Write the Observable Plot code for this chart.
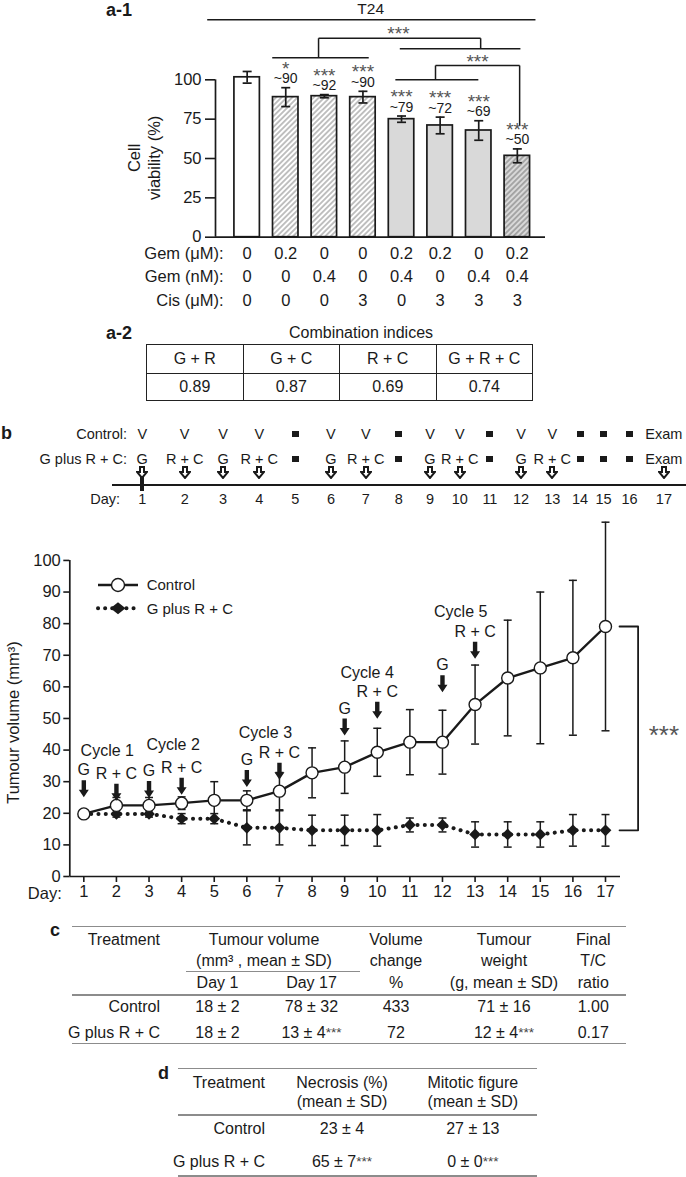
<!DOCTYPE html>
<html><head><meta charset="utf-8">
<script src="https://cdn.jsdelivr.net/npm/d3@7"></script>
<script src="https://cdn.jsdelivr.net/npm/@observablehq/plot@0.6"></script>
<style>
html,body{margin:0;padding:0;background:#fff;}
#root{position:relative;width:686px;height:1177px;overflow:hidden;background:#fff;font-family:"Liberation Sans",Arial,Helvetica,sans-serif;color:#1a1a1a;}
.t{position:absolute;white-space:nowrap;line-height:1.2;}
.row{position:absolute;display:grid;align-items:center;}
.cell{display:flex;justify-content:center;align-items:center;white-space:nowrap;height:100%;}
.cell.r{justify-content:flex-end;}
.rule{position:absolute;background:#8c8c8c;height:1.4px;}
.blk{position:absolute;background:#1a1a1a;}
sup{font-size:0.85em;line-height:0;vertical-align:0.45em;color:#444;}
.ci{position:absolute;left:146px;top:344px;width:387px;border-collapse:collapse;font-size:16px;}
.ci td{border:1.6px solid #222;text-align:center;padding:0;width:25%;}
</style></head><body><div id="root"></div>
<script>
// ================= DATA =================
// a-1 : cell viability (%) of T24 cells
const barIds = [1, 2, 3, 4, 5, 6, 7, 8];
const viabilityMean = [101.6, 89.0, 89.6, 89.0, 75.0, 71.0, 67.8, 51.7];
const viabilitySD = [3.7, 6.0, 1.0, 3.7, 2.0, 5.3, 6.2, 4.4];
const barGroup = ["control", "single", "single", "single", "pair", "pair", "pair", "triple"];
const starText = ["", "*", "***", "***", "***", "***", "***", "***"];
const approxText = ["", "~90", "~92", "~90", "~79", "~72", "~69", "~50"];
const gemUM = ["0", "0.2", "0", "0", "0.2", "0.2", "0", "0.2"];
const gemNM = ["0", "0", "0.4", "0", "0.4", "0", "0.4", "0.4"];
const cisUM = ["0", "0", "0", "3", "0", "3", "3", "3"];
const doseRowLabels = ["Gem (μM):", "Gem (nM):", "Cis (μM):"];
const viabilityTicks = [0, 25, 50, 75, 100];
const cellLine = "T24";
// comparison brackets (bar index units, viability % units)
const bracketX1 = [-0.035, 1.65, 2.85, 2.85, 7.05, 4.955, 4.84, 5.88, 5.88, 8.06];
const bracketY1 = [138.1, 114.0, 114.0, 126.4, 126.4, 119.7, 100.0, 100.0, 109.1, 109.1];
const bracketX2 = [8.47, 4.15, 2.85, 7.05, 7.05, 8.08, 6.99, 5.88, 8.06, 8.06];
const bracketY2 = [138.1, 114.0, 126.4, 126.4, 119.7, 119.7, 100.0, 109.1, 109.1, 71.0];
const bracketStarX = [4.92, 6.97];
const bracketStarY = [132.6, 114.3];

// a-2 : combination indices
const ciLabels = ["G + R", "G + C", "R + C", "G + R + C"];
const ciValues = ["0.89", "0.87", "0.69", "0.74"];

// b : schedule
const controlSchedule = ["V","V","V","V","■","V","V","■","V","V","■","V","V","■","■","■","Exam"];
const treatSchedule = ["G","R + C","G","R + C","■","G","R + C","■","G","R + C","■","G","R + C","■","■","■","Exam"];
const arrowDays = [1, 2, 3, 4, 6, 7, 9, 10, 12, 13, 17];
const scheduleLabels = ["Control:", "G plus R + C:", "Day:"];

// b : tumour volume (mm3)
const days = [1,2,3,4,5,6,7,8,9,10,11,12,13,14,15,16,17];
const controlMean = [19.8, 22.5, 22.5, 23.2, 24.1, 24.1, 27.0, 32.8, 34.6, 39.3, 42.5, 42.5, 54.4, 62.8, 66.0, 69.2, 79.1];
const controlSD = [0.8, 2.5, 2.5, 2.0, 5.9, 3.0, 5.9, 7.9, 8.3, 7.6, 10.3, 10.1, 12.5, 18.3, 24.0, 24.5, 33.0];
const treatMean = [19.8, 19.8, 19.8, 18.3, 18.3, 15.4, 15.4, 14.6, 14.6, 14.6, 16.3, 16.3, 13.3, 13.3, 13.3, 14.6, 14.6];
const treatSD = [0.8, 1.0, 1.0, 1.6, 1.6, 5.4, 5.4, 4.8, 4.8, 5.0, 2.2, 2.2, 4.0, 4.0, 4.0, 5.0, 5.0];
const volumeTicks = [0, 10, 20, 30, 40, 50, 60, 70, 80, 90, 100];
const seriesNames = ["Control", "G plus R + C"];
const doseDays = [1, 2, 3, 4, 6, 7, 9, 10, 12, 13];
const doseDrug = ["G", "R + C", "G", "R + C", "G", "R + C", "G", "R + C", "G", "R + C"];
const doseArrowTip = [25.1, 24.0, 24.8, 25.9, 28.3, 30.6, 44.6, 49.9, 58.3, 68.9];
const cycleNames = ["Cycle 1", "Cycle 2", "Cycle 3", "Cycle 4", "Cycle 5"];
const cycleX = [1.72, 3.74, 6.57, 9.69, 12.56];
const cycleY = [39.6, 41.7, 45.3, 64.5, 83.6];
const finalSig = "***";

// c : tumour table
const tcHead1 = ["Treatment", "Tumour volume", "Volume", "Tumour", "Final"];
const tcHead2 = ["", "(mm³ , mean ± SD)", "change", "weight", "T/C"];
const tcHead3 = ["", "Day 1", "Day 17", "%", "(g, mean ± SD)", "ratio"];
const tcRow1 = ["Control", "18 ± 2", "78 ± 32", "433", "71 ± 16", "1.00"];
const tcRow2 = ["G plus R + C", "18 ± 2", "13 ± 4***", "72", "12 ± 4***", "0.17"];

// d : histology table
const tdHead1 = ["Treatment", "Necrosis (%)", "Mitotic figure"];
const tdHead2 = ["", "(mean ± SD)", "(mean ± SD)"];
const tdRow1 = ["Control", "23 ± 4", "27 ± 13"];
const tdRow2 = ["G plus R + C", "65 ± 7***", "0 ± 0***"];

// ================= RENDER =================
const FONT = '"Liberation Sans", Arial, Helvetica, sans-serif';
const INK = "#1a1a1a";
const root = document.getElementById("root");

function place(el, left, top) {
  el.style.position = "absolute"; el.style.left = left + "px"; el.style.top = top + "px";
  root.appendChild(el); return el;
}
function addText(txt, x, y, size, anchor = "start", weight = "normal", lh = 1.2) {
  const d = document.createElement("div");
  d.className = "t"; d.textContent = txt;
  d.style.fontSize = size + "px"; d.style.fontWeight = weight; d.style.lineHeight = lh;
  d.style.left = x + "px"; d.style.top = y + "px";
  const tx = anchor === "start" ? "0" : anchor === "middle" ? "-50%" : "-100%";
  d.style.transform = `translate(${tx},-50%)`;
  root.appendChild(d); return d;
}
function addRule(x1, x2, y, cls = "rule", h) {
  const d = document.createElement("div"); d.className = cls;
  d.style.left = x1 + "px"; d.style.width = (x2 - x1) + "px"; d.style.top = (y - 0.7) + "px";
  if (h) d.style.height = h + "px";
  root.appendChild(d); return d;
}
function starHTML(s) {
  const esc = s.replace(/&/g, "&amp;").replace(/</g, "&lt;");
  return esc.replace(/(\*+)$/, "<sup>$1</sup>");
}
function addRow(cells, left, yCenter, cols, size, height = 22) {
  const r = document.createElement("div"); r.className = "row";
  r.style.left = left + "px"; r.style.top = (yCenter - height / 2) + "px";
  r.style.height = height + "px"; r.style.gridTemplateColumns = cols; r.style.fontSize = size + "px";
  for (const c of cells) {
    const d = document.createElement("div");
    d.className = "cell" + (c.right ? " r" : "");
    if (c.span) d.style.gridColumn = "span " + c.span;
    if (c.pr) d.style.paddingRight = c.pr + "px";
    if (c.html != null) d.innerHTML = c.html; else d.textContent = c.text;
    r.appendChild(d);
  }
  root.appendChild(r); return r;
}

// ---------- a-1 bar chart ----------
const barRows = barIds.map((id, i) => ({
  id, mean: viabilityMean[i], sd: viabilitySD[i], group: barGroup[i],
  star: starText[i], approx: approxText[i]
}));
const HATCH_W = "#fe0001", HATCH_G = "#fe0002";
const groupFill = {control: "#ffffff", single: HATCH_W, pair: "#d9d9d9", triple: HATCH_G};
const capSym = {draw(ctx) { ctx.moveTo(-4.5, 0); ctx.lineTo(4.5, 0); }};
const capSymWide = {draw(ctx) { ctx.moveTo(-4, 0); ctx.lineTo(4, 0); }};
const xDom = [0.18, 8.73];
const brackets = bracketX1.map((x1, i) => ({x1, y1: bracketY1[i], x2: bracketX2[i], y2: bracketY2[i]}));
const bracketStars = bracketStarX.map((x, i) => ({x, y: bracketStarY[i], text: "***"}));
const doseArrays = [gemUM, gemNM, cisUM];
const doseDy = [16.6, 40, 64];

const barPlot = Plot.plot({
  width: 686, height: 320,
  marginLeft: 215, marginRight: 141, marginTop: 0, marginBottom: 83.3,
  x: {type: "linear", domain: xDom, axis: null},
  y: {domain: [0, 150.4], label: null},
  style: {fontFamily: FONT, fontSize: "16px", color: INK, background: "transparent", overflow: "visible"},
  marks: [
    ...Object.keys(groupFill).map(g => Plot.rectY(barRows.filter(d => d.group === g), {
      x1: d => d.id - 0.33, x2: d => d.id + 0.33, y1: 0, y2: "mean",
      fill: groupFill[g], stroke: INK, strokeWidth: 1.7
    })),
    Plot.ruleX(barRows, {x: "id", y1: d => d.mean - d.sd, y2: d => d.mean + d.sd, stroke: INK, strokeWidth: 1.7}),
    Plot.dot(barRows, {x: "id", y: d => d.mean + d.sd, symbol: capSym, fill: "none", stroke: INK, strokeWidth: 1.7}),
    Plot.dot(barRows, {x: "id", y: d => d.mean - d.sd, symbol: capSym, fill: "none", stroke: INK, strokeWidth: 1.7}),
    Plot.ruleY([0], {stroke: INK, strokeWidth: 1.7}),
    Plot.ruleX([xDom[0]], {y1: 0, y2: viabilityTicks[viabilityTicks.length - 1], stroke: INK, strokeWidth: 1.7}),
    Plot.axisY({ticks: viabilityTicks, tickSize: 10, tickPadding: 4, fontSize: 16.5, strokeWidth: 1.6, label: null}),
    Plot.text(["Cell\nviability (%)"], {text: d => d, frameAnchor: "left", rotate: -90, dx: -72, dy: 39,
      textAnchor: "middle", lineAnchor: "middle", lineHeight: 1.25, fontSize: 16.5}),
    Plot.text(barRows, {x: "id", y: d => d.mean + d.sd, text: "approx", dy: -9, fontSize: 14, lineAnchor: "middle"}),
    Plot.text(barRows, {x: "id", y: d => d.mean + d.sd, text: "star", dy: -19, fontSize: 19, fill: "#555", lineAnchor: "middle"}),
    Plot.link(brackets, {x1: "x1", y1: "y1", x2: "x2", y2: "y2", stroke: INK, strokeWidth: 1.5}),
    Plot.text(bracketStars, {x: "x", y: "y", text: "text", fontSize: 19, fill: "#555", dy: 5}),
    Plot.text([cellLine], {text: d => d, x: 4.2, y: 144.7, fontSize: 15.5}),
    ...doseArrays.map((arr, r) => Plot.text(barRows, {
      x: "id", text: d => arr[d.id - 1], frameAnchor: "bottom", dy: doseDy[r],
      lineAnchor: "middle", textAnchor: "middle", fontSize: 16.5
    })),
    ...doseRowLabels.map((lab, r) => Plot.text([lab], {
      text: d => d, frameAnchor: "bottom-left", dx: 8, dy: doseDy[r],
      lineAnchor: "middle", textAnchor: "end", fontSize: 16.5
    }))
  ]
});
d3.select(barPlot).insert("defs", ":first-child").html(`
  <pattern id="hatchW" patternUnits="userSpaceOnUse" width="3.8" height="3.8" patternTransform="rotate(45)">
    <rect width="3.8" height="3.8" fill="#ffffff"/>
    <line x1="1.9" y1="0" x2="1.9" y2="3.8" stroke="#6e6e6e" stroke-width="0.85"/>
  </pattern>
  <pattern id="hatchG" patternUnits="userSpaceOnUse" width="3.8" height="3.8" patternTransform="rotate(45)">
    <rect width="3.8" height="3.8" fill="#d9d9d9"/>
    <line x1="1.9" y1="0" x2="1.9" y2="3.8" stroke="#626262" stroke-width="0.85"/>
  </pattern>`);
barPlot.querySelectorAll(`[fill="${HATCH_W}"]`).forEach(e => e.setAttribute("fill", "url(#hatchW)"));
barPlot.querySelectorAll(`[fill="${HATCH_G}"]`).forEach(e => e.setAttribute("fill", "url(#hatchG)"));
place(barPlot, 0, 0);
addText("a-1", 106, 10, 18, "start", "bold", 1);

// ---------- a-2 table ----------
addText("a-2", 106, 333, 18, "start", "bold", 1);
addText("Combination indices", 361, 333, 16, "middle");
const ci = document.createElement("table"); ci.className = "ci";
const tr1 = document.createElement("tr"); tr1.style.height = "29px";
const tr2 = document.createElement("tr"); tr2.style.height = "27px";
ciLabels.forEach(t => { const td = document.createElement("td"); td.textContent = t; tr1.appendChild(td); });
ciValues.forEach(t => { const td = document.createElement("td"); td.textContent = t; tr2.appendChild(td); });
ci.appendChild(tr1); ci.appendChild(tr2); root.appendChild(ci);

// ---------- b schedule ----------
addText("b", 1, 433, 18, "start", "bold", 1);
const schedCols = "120px 44.5px 40.4px 36.3px 36.15px 35.8px 35.65px 34px 32.15px 30.15px 29.55px 30.65px 31.7px 30.6px 25.15px 21.85px 30.15px 38.5px";
const SQUARE = '<span style="display:inline-block;width:7px;height:6px;background:#1a1a1a"></span>';
const ARROW = '<svg width="12" height="13" viewBox="0 0 12 13" style="display:block"><path d="M4 1H8V6H11L6 12L1 6H4Z" fill="#fff" stroke="#1a1a1a" stroke-width="2"/></svg>';
function schedCells(label, arr, pr) {
  return [{right: true, html: `<span style="margin-right:${pr}px">${label}</span>`}]
    .concat(arr.map(v => v === "■" ? {html: SQUARE} : {text: v}));
}
addRow(schedCells(scheduleLabels[0], controlSchedule, -7), 0, 434, schedCols, 14.5, 20);
addRow(schedCells(scheduleLabels[1], treatSchedule, -7), 0, 459, schedCols, 14.5, 20);
addRule(111.7, 686, 485, "blk", 2.2);
const dayTick = document.createElement("div"); dayTick.className = "blk";
place(dayTick, 140.3, 475); dayTick.style.width = "4px"; dayTick.style.height = "16px";
addRow([{text: ""}].concat(days.map(d => arrowDays.includes(d) ? {html: ARROW} : {text: ""})), 0, 472, schedCols, 14.5, 14);
addRow(schedCells(scheduleLabels[2], days.map(String), 0), 0, 499.3, schedCols, 14.5, 20);

// ---------- b tumour volume chart ----------
const lineRows = days.map((d, i) => ({day: d, cm: controlMean[i], cs: controlSD[i], tm: treatMean[i], ts: treatSD[i]}));
const doseRows = doseDays.map((d, i) => ({day: d, drug: doseDrug[i], tip: doseArrowTip[i]}));
const cycleRows = cycleNames.map((n, i) => ({name: n, x: cycleX[i], y: cycleY[i]}));
const arrowSym = {draw(ctx) {
  ctx.moveTo(0, 0); ctx.lineTo(-5, -7.5); ctx.lineTo(-2.2, -7.5); ctx.lineTo(-2.2, -17);
  ctx.lineTo(2.2, -17); ctx.lineTo(2.2, -7.5); ctx.lineTo(5, -7.5); ctx.closePath();
}};
const last = lineRows[lineRows.length - 1];
const sigBracket = [
  {x: last.day + 0.43, y: last.cm}, {x: last.day + 1.0, y: last.cm},
  {x: last.day + 1.0, y: last.tm}, {x: last.day + 0.43, y: last.tm}
];
const vxDom = [0.57, 17.46];
const tumourPlot = Plot.plot({
  width: 686, height: 400,
  marginLeft: 69.3, marginRight: 66, marginTop: 0, marginBottom: 34,
  x: {type: "linear", domain: vxDom, label: null},
  y: {domain: [0, 115.8], label: null},
  style: {fontFamily: FONT, fontSize: "16px", color: INK, background: "transparent", overflow: "visible"},
  marks: [
    Plot.ruleY([0], {stroke: INK, strokeWidth: 1.7}),
    Plot.ruleX([vxDom[0]], {y1: 0, y2: volumeTicks[volumeTicks.length - 1], stroke: INK, strokeWidth: 1.7}),
    Plot.axisY({ticks: volumeTicks, tickSize: 6, tickPadding: 3, fontSize: 16.5, strokeWidth: 1.6, label: null}),
    Plot.axisX({ticks: days, tickSize: 6, tickPadding: 3, fontSize: 16.5, strokeWidth: 1.6, label: null}),
    Plot.text(["Day:"], {text: d => d, frameAnchor: "bottom-left", dx: -8, dy: 17, textAnchor: "end", lineAnchor: "middle", fontSize: 16.5}),
    Plot.text(["Tumour volume (mm³)"], {text: d => d, frameAnchor: "left", rotate: -90, dx: -56, dy: 29,
      textAnchor: "middle", lineAnchor: "middle", fontSize: 16.5}),
    // treated error bars
    Plot.ruleX(lineRows, {x: "day", y1: d => d.tm - d.ts, y2: d => d.tm + d.ts, stroke: INK, strokeWidth: 1.5}),
    Plot.dot(lineRows, {x: "day", y: d => d.tm + d.ts, symbol: capSymWide, fill: "none", stroke: INK, strokeWidth: 1.5}),
    Plot.dot(lineRows, {x: "day", y: d => d.tm - d.ts, symbol: capSymWide, fill: "none", stroke: INK, strokeWidth: 1.5}),
    // control error bars
    Plot.ruleX(lineRows, {x: "day", y1: d => d.cm - d.cs, y2: d => d.cm + d.cs, stroke: INK, strokeWidth: 1.5}),
    Plot.dot(lineRows, {x: "day", y: d => d.cm + d.cs, symbol: capSymWide, fill: "none", stroke: INK, strokeWidth: 1.5}),
    Plot.dot(lineRows, {x: "day", y: d => d.cm - d.cs, symbol: capSymWide, fill: "none", stroke: INK, strokeWidth: 1.5}),
    // lines
    Plot.line(lineRows, {x: "day", y: "tm", stroke: INK, strokeWidth: 4, strokeDasharray: "0.1 7.2", strokeLinecap: "round"}),
    Plot.line(lineRows, {x: "day", y: "cm", stroke: INK, strokeWidth: 2.4}),
    Plot.dot(lineRows, {x: "day", y: "tm", symbol: "diamond2", r: 5.3, fill: INK, stroke: "none"}),
    Plot.dot(lineRows, {x: "day", y: "cm", r: 6, fill: "#fff", stroke: INK, strokeWidth: 1.4}),
    // dosing annotations
    Plot.dot(doseRows, {x: "day", y: "tip", symbol: arrowSym, fill: INK, stroke: "none"}),
    Plot.text(doseRows, {x: "day", y: "tip", text: "drug", dy: -27, fontSize: 16}),
    Plot.text(cycleRows, {x: "x", y: "y", text: "name", fontSize: 16}),
    // final comparison
    Plot.line(sigBracket, {x: "x", y: "y", stroke: INK, strokeWidth: 1.8}),
    Plot.text([finalSig], {text: d => d, x: last.day + 1.79, y: (last.cm + last.tm) / 2, dy: 7, fontSize: 26, fill: "#555"})
  ]
});
place(tumourPlot, 0, 510);

// legend
const leg = d3.create("svg").attr("width", 220).attr("height", 50)
  .style("position", "absolute").style("left", "90px").style("top", "570px")
  .style("font-family", FONT).style("overflow", "visible");
leg.append("line").attr("x1", 8).attr("x2", 48).attr("y1", 15).attr("y2", 15).attr("stroke", INK).attr("stroke-width", 2.4);
leg.append("circle").attr("cx", 28).attr("cy", 15).attr("r", 6.5).attr("fill", "#fff").attr("stroke", INK).attr("stroke-width", 1.4);
leg.append("text").attr("x", 56.7).attr("y", 15).attr("dy", "0.35em").attr("font-size", 15).attr("fill", INK).text(seriesNames[0]);
leg.append("line").attr("x1", 8).attr("x2", 48).attr("y1", 38.3).attr("y2", 38.3).attr("stroke", INK)
  .attr("stroke-width", 4).attr("stroke-dasharray", "0.1 7").attr("stroke-linecap", "round");
leg.append("path").attr("d", "M28,32.3L35.5,38.3L28,44.3L20.5,38.3Z").attr("fill", INK);
leg.append("text").attr("x", 56.7).attr("y", 38.3).attr("dy", "0.35em").attr("font-size", 15).attr("fill", INK).text(seriesNames[1]);
root.appendChild(leg.node());

// ---------- c table ----------
addText("c", 50, 930, 18, "start", "bold", 1);
const tcCols = "98px 95px 93px 76px 140px 51.5px";
addRule(72, 625.5, 926.7);
addRow([{text: tcHead1[0], right: true, pr: 10}, {text: tcHead1[1], span: 2}, {text: tcHead1[2]}, {text: tcHead1[3]}, {text: tcHead1[4], pr: 13}], 72, 940, tcCols, 16);
addRow([{text: tcHead2[0], right: true, pr: 10}, {text: tcHead2[1], span: 2}, {text: tcHead2[2]}, {text: tcHead2[3]}, {text: tcHead2[4], pr: 13}], 72, 961, tcCols, 16);
addRule(186, 359.6, 971.5);
addRow(tcHead3.map((t, i) => ({text: t, right: i === 0, pr: i === 0 ? 10 : i === 5 ? 13 : 0})), 72, 983.3, tcCols, 16);
addRule(72, 625.5, 995);
[tcRow1, tcRow2].forEach((row, k) => {
  addRow(row.map((t, i) => ({html: starHTML(t), right: i === 0, pr: i === 0 ? 10 : i === 5 ? 13 : 0})), 72, k === 0 ? 1007.3 : 1032.5, tcCols, 16);
});
addRule(72, 625.5, 1043.3);

// ---------- d table ----------
addText("d", 158, 1073, 18, "start", "bold", 1);
const tdCols = "97px 134px 127.7px";
addRule(178, 536.7, 1068.3);
addRow(tdHead1.map((t, i) => ({text: t, right: i === 0, pr: i === 0 ? 10 : 0})), 178, 1082.7, tdCols, 16);
addRow(tdHead2.map((t, i) => ({text: t, right: i === 0, pr: i === 0 ? 10 : 0})), 178, 1101.7, tdCols, 16);
addRule(178, 536.7, 1115);
[tdRow1, tdRow2].forEach((row, k) => {
  addRow(row.map((t, i) => ({html: starHTML(t), right: i === 0, pr: i === 0 ? 10 : 0})), 178, k === 0 ? 1129 : 1162.3, tdCols, 16);
});
addRule(178, 536.7, 1176);
</script></body></html>
